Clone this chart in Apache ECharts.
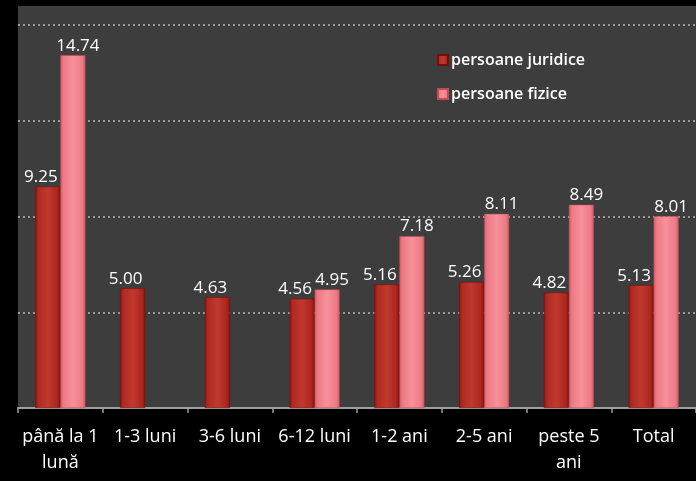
<!DOCTYPE html>
<html><head><meta charset="utf-8">
<script src="https://cdn.jsdelivr.net/npm/echarts@6/dist/echarts.min.js"></script>
<style>html,body{margin:0;padding:0;background:#000;}#c{width:696px;height:481px;}</style>
</head><body><div id="c"></div>
<script>
const categories = ['până la 1\nlună', '1-3 luni', '3-6 luni', '6-12 luni', '1-2 ani', '2-5 ani', 'peste 5\nani', 'Total'];
const juridice = [9.25, 5.00, 4.63, 4.56, 5.16, 5.26, 4.82, 5.13];
const fizice = [14.74, null, null, 4.95, 7.18, 8.11, 8.49, 8.01];
const seriesNames = ['persoane juridice', 'persoane fizice'];

const font = 'Open Sans';
const redGrad = new echarts.graphic.LinearGradient(0,0,1,0,[
  {offset:0,color:'#8e140f'},{offset:0.12,color:'#b02a22'},{offset:0.5,color:'#c0392e'},{offset:0.88,color:'#ab261e'},{offset:1,color:'#86110c'}]);
const pinkGrad = new echarts.graphic.LinearGradient(0,0,1,0,[
  {offset:0,color:'#d45d67'},{offset:0.12,color:'#ec7a84'},{offset:0.5,color:'#f7909a'},{offset:0.88,color:'#ec7a84'},{offset:1,color:'#cf5862'}]);

const chart = echarts.init(document.getElementById('c'));
chart.setOption({
  backgroundColor: '#000',
  animation: false,
  graphic: [{type:'rect', z:-10, shape:{x:18,y:6,width:678,height:402}, style:{fill:'#3d3d3d'}}],
  grid: {left:18, right:0, top:25, bottom:73, containLabel:false},
  legend: {
    orient:'vertical', left:432, top:47, itemGap:18, itemWidth:10, itemHeight:10,
    icon:'rect',
    textStyle:{color:'#fff', fontFamily:font, fontSize:16, fontWeight:600, padding:[0,0,0,-2]},
    data: seriesNames
  },
  xAxis: {
    type:'category', data:categories,
    axisLine:{lineStyle:{color:'#a0a0a0', width:2}},
    axisTick:{show:true, length:5, lineStyle:{color:'#a0a0a0', width:1.5}},
    axisLabel:{color:'#fff', fontFamily:font, fontSize:18, interval:0, margin:16, lineHeight:26}
  },
  yAxis: {
    type:'value', min:0, max:16, interval:4,
    axisLine:{show:false}, axisTick:{show:false}, axisLabel:{show:false},
    splitLine:{lineStyle:{color:'#b5b5b5', type:[2,3], width:1.5}}
  },
  series: [
    {name:seriesNames[0], type:'bar', data:juridice, barWidth:25, barGap:'0%',
     itemStyle:{color:redGrad, borderColor:'#7a0c08', borderWidth:0.5},
     label:{show:true, position:'top', distance:1, offset:[-7,0], color:'#fff', fontFamily:font, fontSize:17,
       formatter:p=>p.value==null?'':p.value.toFixed(2)}},
    {name:seriesNames[1], type:'bar', data:fizice, barWidth:25,
     itemStyle:{color:pinkGrad, borderColor:'#c04c56', borderWidth:0.5},
     label:{show:true, position:'top', distance:1, offset:[5,0], color:'#fff', fontFamily:font, fontSize:17,
       formatter:p=>p.value==null?'':p.value.toFixed(2)}}
  ]
});
</script></body></html>
